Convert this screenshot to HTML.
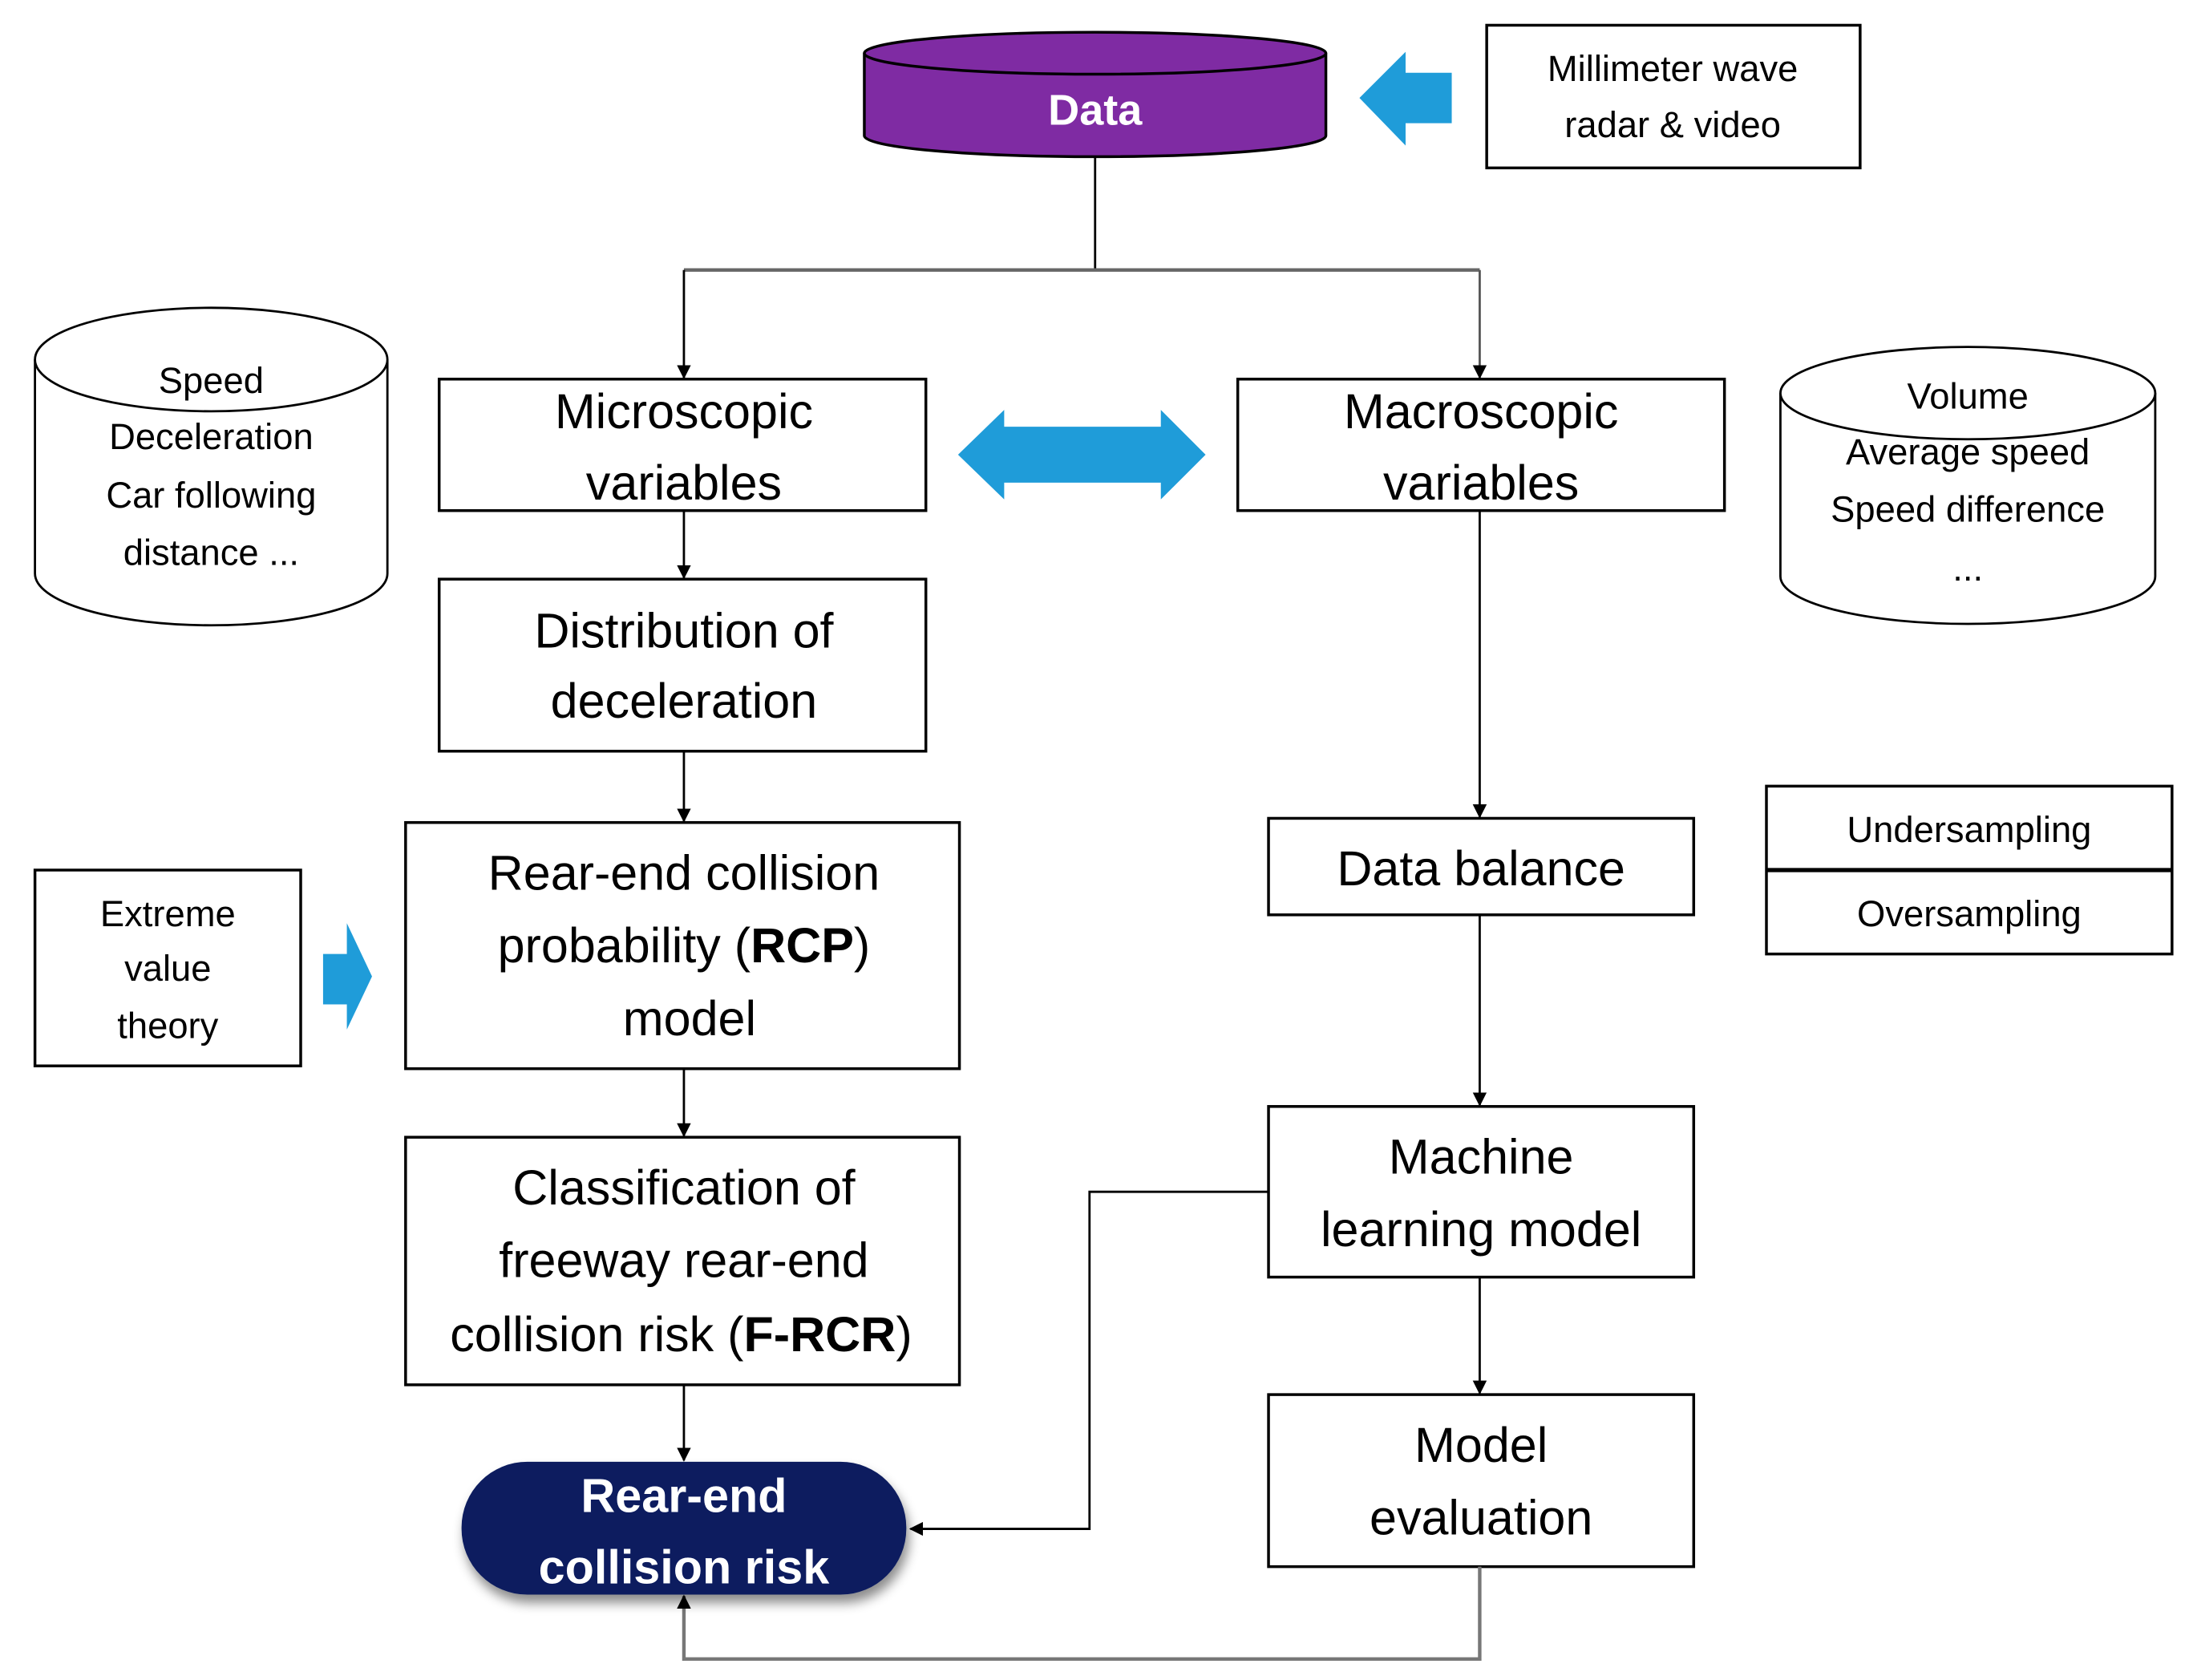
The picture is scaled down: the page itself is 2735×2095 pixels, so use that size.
<!DOCTYPE html>
<html><head><meta charset="utf-8"><style>html,body{margin:0;padding:0;background:#fff}svg{display:block}</style></head>
<body>
<svg width="2735" height="2095" viewBox="0 0 1568 1201" xmlns="http://www.w3.org/2000/svg" font-family="Liberation Sans, sans-serif">
<defs>
<marker id="a" markerWidth="10" markerHeight="10" refX="9" refY="5" orient="auto" markerUnits="userSpaceOnUse"><path d="M0,0 L10,5 L0,10 z" fill="#000"/></marker>
<filter id="sh" x="-20%" y="-20%" width="140%" height="150%"><feDropShadow dx="2" dy="6" stdDeviation="4" flood-color="#000" flood-opacity="0.45"/></filter>
</defs>
<g fill="none" stroke="#000" stroke-width="1.6">
<!-- Data cylinder -->
<path d="M618,38 L618,97 A165,15 0 0 0 948,97 L948,38" fill="#7f2ba3" stroke="#000" stroke-width="2"/>
<ellipse cx="783" cy="38" rx="165" ry="15" fill="#7f2ba3" stroke="#000" stroke-width="2"/>
<!-- boxes -->
<rect x="1063" y="18" width="267" height="102" stroke-width="2"/>
<rect x="314" y="271" width="348" height="94" stroke-width="2"/>
<rect x="885" y="271" width="348" height="94" stroke-width="2"/>
<rect x="314" y="414" width="348" height="123" stroke-width="2"/>
<rect x="290" y="588" width="396" height="176" stroke-width="2"/>
<rect x="25" y="622" width="190" height="140" stroke-width="2"/>
<rect x="907" y="585" width="304" height="69" stroke-width="2"/>
<rect x="1263" y="562" width="290" height="120" stroke-width="2"/>
<line x1="1263" y1="622" x2="1553" y2="622" stroke-width="3"/>
<rect x="290" y="813" width="396" height="177" stroke-width="2"/>
<rect x="907" y="791" width="304" height="122" stroke-width="2"/>
<rect x="907" y="997" width="304" height="123" stroke-width="2"/>
<!-- cylinders -->
<path d="M25,257 L25,410 A126,37 0 0 0 277,410 L277,257" fill="#fff"/>
<ellipse cx="151" cy="257" rx="126" ry="37" fill="#fff"/>
<path d="M1273,281 L1273,412 A134,34 0 0 0 1541,412 L1541,281" fill="#fff"/>
<ellipse cx="1407" cy="281" rx="134" ry="33" fill="#fff"/>
<!-- connectors -->
<path d="M783,112 L783,193"/>
<path d="M489,193 L1058,193" stroke="#666" stroke-width="2.5"/>
<path d="M489,193 L489,270" marker-end="url(#a)"/>
<path d="M1058,193 L1058,270" stroke="#555" marker-end="url(#a)"/>
<path d="M489,365 L489,413" marker-end="url(#a)"/>
<path d="M489,537 L489,587" marker-end="url(#a)"/>
<path d="M489,764 L489,812" marker-end="url(#a)"/>
<path d="M489,990 L489,1044" marker-end="url(#a)"/>
<path d="M1058,365 L1058,584" marker-end="url(#a)"/>
<path d="M1058,654 L1058,790" marker-end="url(#a)"/>
<path d="M1058,913 L1058,996" marker-end="url(#a)"/>
<path d="M907,852 L779,852 L779,1093 L651,1093" marker-end="url(#a)"/>
<path d="M1058,1120 L1058,1186 L489,1186 L489,1141" stroke="#777" stroke-width="2.5" marker-end="url(#a)"/>
</g>
<!-- blue arrows -->
<g fill="#1f9cd9">
<path d="M972,70 L1005,37 L1005,52 L1038,52 L1038,88 L1005,88 L1005,104 z"/>
<path d="M685,325 L718,293 L718,305 L830,305 L830,293 L862,325 L830,357 L830,345 L718,345 L718,357 z"/>
<path d="M231,682 L248,682 L248,660 L266,698 L248,736 L248,718 L231,718 z"/>
</g>
<!-- pill -->
<rect x="330" y="1045" width="318" height="95" rx="47" fill="#0b1f5e" filter="url(#sh)"/>
<g text-anchor="middle" fill="#000">
<text x="783" y="89" font-size="31" font-weight="bold" fill="#fff">Data</text>
<g font-size="26">
<text x="1196" y="58">Millimeter wave</text>
<text x="1196" y="98">radar &amp; video</text>
<text x="151" y="281">Speed</text>
<text x="151" y="321">Deceleration</text>
<text x="151" y="363">Car following</text>
<text x="151" y="404">distance ...</text>
<text x="1407" y="292">Volume</text>
<text x="1407" y="332">Average speed</text>
<text x="1407" y="373">Speed difference</text>
<text x="1407" y="415">...</text>
<text x="120" y="662">Extreme</text>
<text x="120" y="701">value</text>
<text x="120" y="742">theory</text>
<text x="1408" y="602">Undersampling</text>
<text x="1408" y="662">Oversampling</text>
</g>
<g font-size="35">
<text x="489" y="306">Microscopic</text>
<text x="489" y="357">variables</text>
<text x="1059" y="306">Macroscopic</text>
<text x="1059" y="357">variables</text>
<text x="489" y="463">Distribution of</text>
<text x="489" y="513">deceleration</text>
<text x="489" y="636">Rear-end collision</text>
<text x="489" y="688">probability (<tspan font-weight="bold">RCP</tspan>)</text>
<text x="493" y="740">model</text>
<text x="1059" y="633">Data balance</text>
<text x="489" y="861">Classification of</text>
<text x="489" y="913">freeway rear-end</text>
<text x="487" y="966">collision risk (<tspan font-weight="bold">F-RCR</tspan>)</text>
<text x="1059" y="839">Machine</text>
<text x="1059" y="891">learning model</text>
<text x="1059" y="1045">Model</text>
<text x="1059" y="1097">evaluation</text>
</g>
<g font-size="34" font-weight="bold" fill="#fff">
<text x="489" y="1081">Rear-end</text>
<text x="489" y="1132">collision risk</text>
</g>
</g>
</svg>
</body></html>
